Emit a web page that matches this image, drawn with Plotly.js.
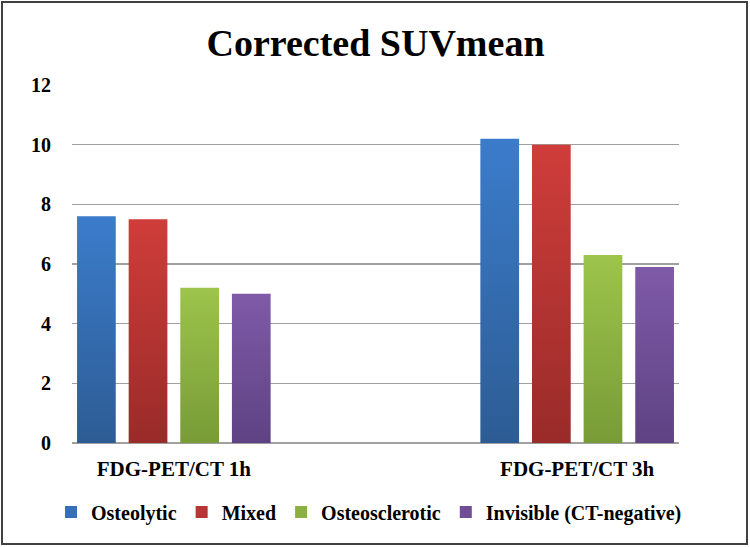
<!DOCTYPE html>
<html>
<head>
<meta charset="utf-8">
<script src="https://cdn.plot.ly/plotly-3.0.1.min.js"></script>
<style>
  html, body { margin: 0; padding: 0; background: #fff; }
  #chart { width: 750px; height: 547px; }
</style>
</head>
<body>
<div id="chart"></div>
<script>
const categories = ["FDG-PET/CT 1h", "FDG-PET/CT 3h"];
const seriesNames = ["Osteolytic", "Mixed", "Osteosclerotic", "Invisible (CT-negative)"];
const osteolytic = [7.6, 10.2];
const mixed = [7.5, 10.0];
const osteosclerotic = [5.2, 6.3];
const invisible = [5.0, 5.9];
const yTicks = [0, 2, 4, 6, 8, 10, 12];

const seriesValues = [osteolytic, mixed, osteosclerotic, invisible];
const colors = ["#3670b6", "#b73634", "#8bb043", "#6f4e97"];
const gradTop = ["#3b7ccb", "#cf3d3a", "#9dc44b", "#7f5aa8"];
const gradBot = ["#2d5c94", "#992b29", "#789b37", "#5e4283"];

const SERIF = "Liberation Serif";

const traces = seriesValues.map((vals, i) => ({
  type: "bar",
  name: seriesNames[i],
  x: categories,
  y: vals,
  marker: { color: colors[i], line: { width: 0 } },
  hoverinfo: "skip"
}));

// plot area: x 72..679, y 85..443
const L = 72, R = 679, T = 85, B = 443, W = 750, H = 547;
const pw = R - L, ph = B - T;
const px = v => (v - L) / pw;
const py = v => (B - v) / ph;

const layout = {
  width: W, height: H,
  paper_bgcolor: "#ffffff",
  plot_bgcolor: "#ffffff",
  margin: { l: L, r: W - R, t: T, b: H - B, pad: 0, autoexpand: false },
  title: {
    text: "<b>Corrected SUVmean</b>",
    font: { family: SERIF, size: 38, color: "#000" },
    x: 0.5, xanchor: "center", xref: "paper",
    y: (H - 43) / H, yanchor: "middle", yref: "container"
  },
  barmode: "group",
  bargap: 0.488,
  bargroupgap: 0.25,
  showlegend: true,
  legend: {
    orientation: "h",
    xref: "paper", yref: "paper",
    x: px(51), xanchor: "left",
    y: py(512), yanchor: "middle",
    bgcolor: "rgba(0,0,0,0)",
    font: { family: SERIF, size: 20, color: "#000", weight: "bold" },
    traceorder: "normal",
    itemclick: false
  },
  xaxis: {
    type: "category",
    range: [-0.2525, 1.2525],
    showgrid: false,
    showline: false,
    zeroline: false,
    ticks: "",
    ticklabelstandoff: 11,
    tickfont: { family: SERIF, size: 21, color: "#000", weight: "bold" },
    fixedrange: true
  },
  yaxis: {
    range: [0, 12],
    tickvals: yTicks,
    ticktext: yTicks.map(String),
    showgrid: true,
    gridcolor: "#a0a0a0",
    gridwidth: 1.5,
    zeroline: true,
    zerolinecolor: "#a0a0a0",
    zerolinewidth: 1.5,
    showline: false,
    ticks: "",
    ticklabelstandoff: 20,
    tickfont: { family: SERIF, size: 20, color: "#000", weight: "bold" },
    fixedrange: true
  },
  shapes: [{
    type: "rect", xref: "paper", yref: "paper",
    x0: px(2), x1: px(747), y0: py(2), y1: py(544),
    line: { color: "#404040", width: 2 },
    fillcolor: "rgba(0,0,0,0)",
    layer: "above"
  }]
};

Plotly.newPlot("chart", traces, layout, { staticPlot: true, displayModeBar: false }).then(gd => {
  // vertical gradients on bars (lighter top, darker bottom)
  const svg = gd.querySelector("svg.main-svg");
  const ns = "http://www.w3.org/2000/svg";
  let defs = svg.querySelector("defs");
  if (!defs) { defs = document.createElementNS(ns, "defs"); svg.insertBefore(defs, svg.firstChild); }
  gradTop.forEach((c, i) => {
    const g = document.createElementNS(ns, "linearGradient");
    g.setAttribute("id", "bargrad" + i);
    g.setAttribute("x1", "0"); g.setAttribute("y1", "0");
    g.setAttribute("x2", "0"); g.setAttribute("y2", "1");
    const s1 = document.createElementNS(ns, "stop");
    s1.setAttribute("offset", "0"); s1.setAttribute("stop-color", c);
    const s2 = document.createElementNS(ns, "stop");
    s2.setAttribute("offset", "1"); s2.setAttribute("stop-color", gradBot[i]);
    g.appendChild(s1); g.appendChild(s2);
    defs.appendChild(g);
  });
  gd.querySelectorAll(".barlayer .trace.bars").forEach((tr, i) => {
    tr.querySelectorAll("path").forEach(p => { p.style.fill = "url(#bargrad" + i + ")"; });
  });
});
</script>
</body>
</html>
